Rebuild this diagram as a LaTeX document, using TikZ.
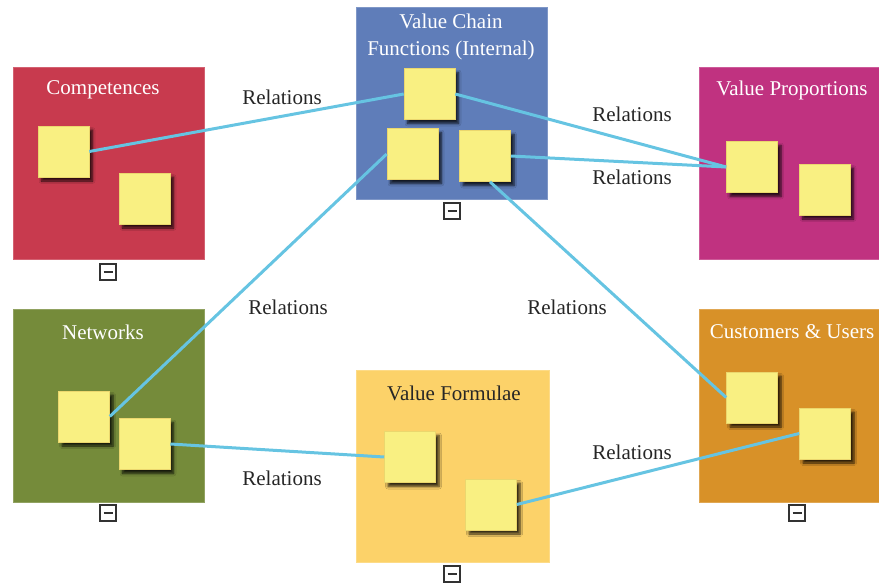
\documentclass[tikz,border=0pt]{standalone}
\usepackage{fontspec}
\setmainfont{Liberation Serif}
\usetikzlibrary{shadows.blur}
\definecolor{compc}{RGB}{200,58,78}
\definecolor{vcc}{RGB}{95,125,185}
\definecolor{vpc}{RGB}{192,50,128}
\definecolor{netc}{RGB}{117,139,58}
\definecolor{vfc}{RGB}{252,210,105}
\definecolor{cuc}{RGB}{216,145,40}
\definecolor{notec}{RGB}{249,240,130}
\definecolor{notee}{RGB}{235,215,110}
\definecolor{linkc}{RGB}{102,196,226}
\definecolor{iconc}{RGB}{50,50,50}
\tikzset{
  area/.style={draw=#1!80!white, line width=1pt, fill=#1, minimum width=191pt, minimum height=192pt, inner sep=0pt},
  note/.style={draw=notee, line width=0.6pt, fill=notec, minimum width=51pt, minimum height=51pt, inner sep=0pt,
    blur shadow={shadow xshift=3.5pt, shadow yshift=-4pt, shadow blur radius=2.5pt, shadow opacity=80, shadow blur steps=6}},
  title/.style={text=white, font=\fontsize{21}{27}\selectfont, align=center, inner sep=0pt},
  rel/.style={text=black!85, font=\fontsize{21}{27}\selectfont, inner sep=0pt},
  link/.style={draw=linkc, line width=3pt},
  icon/.style={draw=iconc, line width=2.2pt, fill=white, minimum width=16pt, minimum height=16pt, inner sep=0pt,
    path picture={\draw[iconc, line width=2.6pt] ([xshift=-4.5pt]path picture bounding box.center) -- ([xshift=4.5pt]path picture bounding box.center);}}
}
\begin{document}
\begin{tikzpicture}[x=1pt,y=-1pt]
\useasboundingbox (0,0) rectangle (879,584);
% areas
\node[area=compc] (comp) at (108.5,163) {};
\node[area=vcc] (vc) at (452,103) {};
\node[area=vpc, minimum width=180pt] (vp) at (789.5,163) {};
\node[area=netc, minimum height=193pt] (net) at (108.5,405.5) {};
\node[area=vfc, minimum width=193pt] (vf) at (452.5,466) {};
\node[area=cuc, minimum width=180pt, minimum height=193pt] (cu) at (789.5,405.5) {};
% titles
\node[title] (tcomp) at (103,90) {Competences};
\node[title] (tvc) at (451,36.5) {Value Chain\\Functions (Internal)};
\node[title] (tvp) at (792,90) {Value Proportions};
\node[title] (tnet) at (103,332) {Networks};
\node[title, text=black!85] (tvf) at (454,393) {Value Formulae};
\node[title] (tcu) at (792,332) {Customers \& Users};
% notes
\node[note] (c1) at (63.5,151.5) {};
\node[note] (c2) at (144.5,198.5) {};
\node[note] (vc1) at (429.5,94) {};
\node[note] (vc2) at (412.5,154) {};
\node[note] (vc3) at (485,156) {};
\node[note] (vp1) at (752,167) {};
\node[note] (vp2) at (824.5,189.5) {};
\node[note] (n1) at (84,416.5) {};
\node[note] (n2) at (144.5,444) {};
\node[note] (vf1) at (410,457) {};
\node[note] (vf2) at (491,504.5) {};
\node[note] (cu1) at (752,397.5) {};
\node[note] (cu2) at (825,433.5) {};
% links
\draw[link] (c1.east) -- (vc1.west);
\draw[link] (vc1.east) -- (vp1.west);
\draw[link] (vc3.east) -- (vp1.west);
\draw[link] (vc2.west) -- (n1.east);
\draw[link] ([xshift=5pt]vc3.south) -- (cu1.west);
\draw[link] (n2.east) -- (vf1.west);
\draw[link] (vf2.east) -- (cu2.west);
% labels
\node[rel] (r1) at (282,97) {Relations};
\node[rel] (r2) at (632,114) {Relations};
\node[rel] (r3) at (632,177) {Relations};
\node[rel] (r4) at (288,307) {Relations};
\node[rel] (r5) at (567,307) {Relations};
\node[rel] (r6) at (282,478) {Relations};
\node[rel] (r7) at (632,452) {Relations};
% collapse icons
\node[icon] (i1) at (108,272) {};
\node[icon] (i2) at (452,211) {};
\node[icon] (i3) at (108,513) {};
\node[icon] (i4) at (452,574) {};
\node[icon] (i5) at (797,513) {};
\end{tikzpicture}
\end{document}
